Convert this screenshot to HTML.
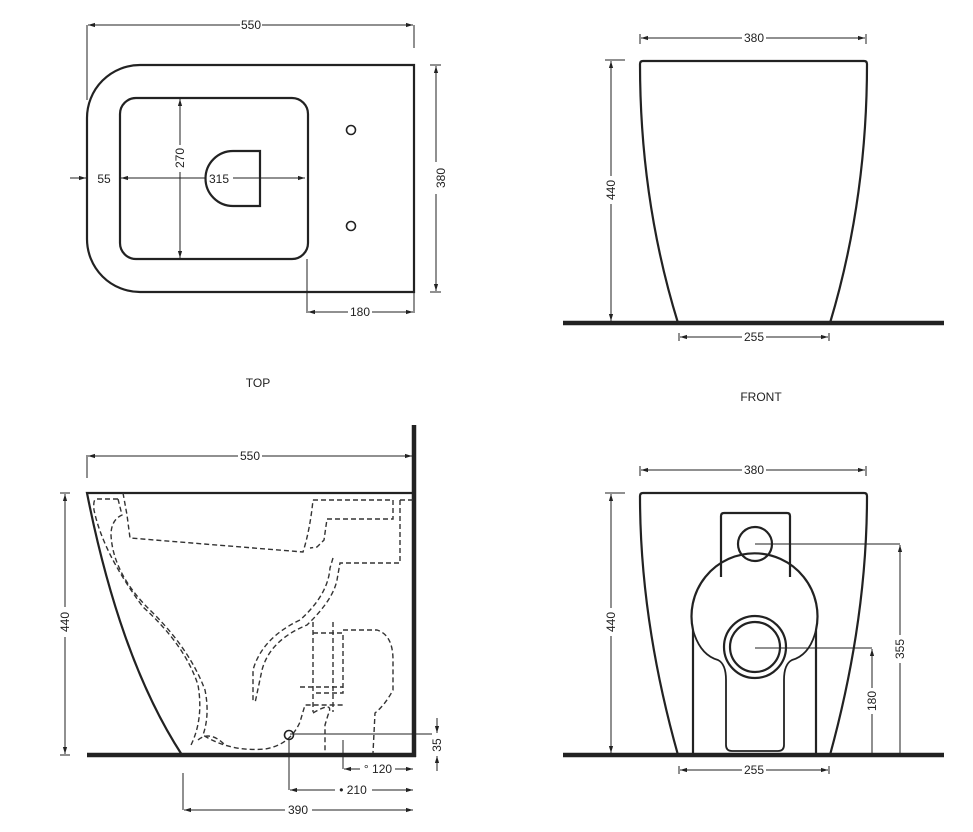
<!DOCTYPE html>
<html><head><meta charset="utf-8"><style>
html,body{margin:0;padding:0;background:#fff;}
svg{display:block;}
text{font-family:"Liberation Sans",sans-serif;font-size:12px;fill:#222;}
</style></head><body>
<svg width="973" height="832" viewBox="0 0 973 832" xmlns="http://www.w3.org/2000/svg">
<defs>
<marker id="a" viewBox="0 0 10 10" refX="10" refY="5" markerWidth="7" markerHeight="7" orient="auto-start-reverse"><path d="M0,2 L10,5 L0,8 z" fill="#222"/></marker>
</defs>
<g fill="none" stroke="#222" stroke-width="2.2">
<path d="M414,65 L140,65 A53,53 0 0 0 87,118 L87,239 A53,53 0 0 0 140,292 L414,292 Z"/>
<rect x="120" y="98" width="188" height="161" rx="16"/>
<path d="M260,151 L233,151 A27,27 0 0 0 233,206 L260,206 Z"/>
<circle cx="351" cy="130" r="4.5" stroke-width="1.6"/>
<circle cx="351" cy="226" r="4.5" stroke-width="1.6"/>
<path d="M643,61 L864,61 Q867,61 867,64 Q867,200 830,323 L678,323 Q640,200 640,64 Q640,61 643,61 Z"/>
<path d="M414,493 L87,493 Q120,660 182,755"/>
<path d="M643,493 L864,493 Q867,493 867,496 Q867,620 830,755 L678,755 Q640,620 640,496 Q640,493 643,493 Z"/>
<path d="M721,577 L721,516 Q721,513 724,513 L787,513 Q790,513 790,516 L790,577"/>
<circle cx="755" cy="544" r="17"/>
<path d="M693,755 L693,630 A63,63 0 1 1 816,630 L816,755"/>
<path d="M693,630 Q700,655 718,660 Q726,664 726,680 L726,745 Q726,751 732,751 L778,751 Q784,751 784,745 L784,680 Q784,664 792,660 Q810,655 816,630" stroke-width="1.8"/>
<circle cx="755" cy="647" r="31"/>
<circle cx="755" cy="647" r="25"/>
</g>
<g stroke="#222" stroke-width="4.5">
<line x1="563" y1="323" x2="944" y2="323"/>
<line x1="563" y1="755" x2="944" y2="755"/>
<line x1="87" y1="755" x2="416" y2="755"/>
<line x1="414" y1="425" x2="414" y2="757"/>
</g>
<g fill="none" stroke="#333" stroke-width="1.4" stroke-dasharray="5,3">
<path d="M118,499 L96,499 Q93,500 94,510 Q103,553 143,607 Q185,645 198,685 Q204,720 190,747"/>
<path d="M118,499 L122,515 Q111,520 111,535 Q113,575 153,613 Q190,650 205,690 Q210,715 203,735 Q230,752 265,749 Q290,745 300,722 L305,705 L343,705"/>
<path d="M123,493 L127,515 L130,538 L303,552 Q310,530 313,500"/>
<path d="M198,740 Q210,730 225,745"/>
<path d="M313,500 L393,500 L393,519 L327,519 L324,540 L317,547 L310,548"/>
<path d="M400,500 L414,500"/>
<path d="M400,500 L400,563 L340,563 L337,580 Q333,600 307,625 Q270,640 262,670 L255,703"/>
<path d="M333,558 L330,568 Q328,595 300,620 Q262,638 253,670 L253,703"/>
<path d="M313,622 L313,712 M333,622 L333,712 M313,633 L343,633 L343,693 L313,693 M300,687 L343,687"/>
<path d="M343,630 L377,630 Q393,635 393,660 L393,690 Q385,705 375,713 L373,753"/>
<path d="M313,713 Q335,700 328,715 L325,725 L325,753"/>
</g>
<circle cx="289" cy="735" r="4.5" fill="none" stroke="#222" stroke-width="1.6"/>
<g stroke="#222" stroke-width="1" fill="none">
<line x1="87" y1="25" x2="87" y2="100"/><line x1="414" y1="25" x2="414" y2="48"/>
<line x1="88" y1="25" x2="240" y2="25" marker-start="url(#a)"/><line x1="262" y1="25" x2="413" y2="25" marker-end="url(#a)"/>
<line x1="430" y1="65" x2="441" y2="65"/><line x1="430" y1="292" x2="441" y2="292"/>
<line x1="436" y1="66" x2="436" y2="162" marker-start="url(#a)"/><line x1="436" y1="194" x2="436" y2="291" marker-end="url(#a)"/>
<line x1="307" y1="259" x2="307" y2="313"/><line x1="414" y1="292" x2="414" y2="313"/>
<line x1="308" y1="312" x2="348" y2="312" marker-start="url(#a)"/><line x1="372" y1="312" x2="413" y2="312" marker-end="url(#a)"/>
<line x1="70" y1="178" x2="86" y2="178" marker-end="url(#a)"/>
<line x1="121" y1="178" x2="205" y2="178" marker-start="url(#a)"/><line x1="233" y1="178" x2="305" y2="178" marker-end="url(#a)"/>
<line x1="180" y1="99" x2="180" y2="145" marker-start="url(#a)"/><line x1="180" y1="172" x2="180" y2="258" marker-end="url(#a)"/>
<line x1="640" y1="34" x2="640" y2="44"/><line x1="866" y1="34" x2="866" y2="44"/>
<line x1="641" y1="38" x2="742" y2="38" marker-start="url(#a)"/><line x1="766" y1="38" x2="865" y2="38" marker-end="url(#a)"/>
<line x1="605" y1="60" x2="625" y2="60"/>
<line x1="611" y1="61" x2="611" y2="176" marker-start="url(#a)"/><line x1="611" y1="204" x2="611" y2="321" marker-end="url(#a)"/>
<line x1="679" y1="333" x2="679" y2="341"/><line x1="829" y1="333" x2="829" y2="341"/>
<line x1="680" y1="337" x2="742" y2="337" marker-start="url(#a)"/><line x1="766" y1="337" x2="828" y2="337" marker-end="url(#a)"/>
<line x1="87" y1="455" x2="87" y2="478"/>
<line x1="88" y1="456" x2="238" y2="456" marker-start="url(#a)"/><line x1="262" y1="456" x2="412" y2="456" marker-end="url(#a)"/>
<line x1="60" y1="493" x2="70" y2="493"/><line x1="60" y1="755" x2="70" y2="755"/>
<line x1="65" y1="494" x2="65" y2="607" marker-start="url(#a)"/><line x1="65" y1="637" x2="65" y2="754" marker-end="url(#a)"/>
<line x1="290" y1="734" x2="432" y2="734"/>
<line x1="437" y1="718" x2="437" y2="733" marker-end="url(#a)"/><line x1="437" y1="771" x2="437" y2="756" marker-end="url(#a)"/>
<line x1="343" y1="740" x2="343" y2="769"/>
<line x1="344" y1="769" x2="360" y2="769" marker-start="url(#a)"/><line x1="395" y1="769" x2="413" y2="769" marker-end="url(#a)"/>
<line x1="289" y1="740" x2="289" y2="790"/>
<line x1="290" y1="790" x2="335" y2="790" marker-start="url(#a)"/><line x1="372" y1="790" x2="413" y2="790" marker-end="url(#a)"/>
<line x1="183" y1="773" x2="183" y2="810"/>
<line x1="184" y1="810" x2="285" y2="810" marker-start="url(#a)"/><line x1="312" y1="810" x2="413" y2="810" marker-end="url(#a)"/>
<line x1="640" y1="466" x2="640" y2="476"/><line x1="866" y1="466" x2="866" y2="476"/>
<line x1="641" y1="470" x2="742" y2="470" marker-start="url(#a)"/><line x1="766" y1="470" x2="865" y2="470" marker-end="url(#a)"/>
<line x1="605" y1="493" x2="625" y2="493"/>
<line x1="611" y1="494" x2="611" y2="608" marker-start="url(#a)"/><line x1="611" y1="636" x2="611" y2="753" marker-end="url(#a)"/>
<line x1="755" y1="544" x2="900" y2="544"/>
<line x1="900" y1="545" x2="900" y2="635" marker-start="url(#a)"/><line x1="900" y1="663" x2="900" y2="753"/>
<line x1="755" y1="648" x2="872" y2="648"/>
<line x1="872" y1="649" x2="872" y2="688" marker-start="url(#a)"/><line x1="872" y1="714" x2="872" y2="753"/>
<line x1="679" y1="766" x2="679" y2="774"/><line x1="829" y1="766" x2="829" y2="774"/>
<line x1="680" y1="770" x2="742" y2="770" marker-start="url(#a)"/><line x1="766" y1="770" x2="828" y2="770" marker-end="url(#a)"/>
</g>
<g text-anchor="middle">
<text x="251" y="29">550</text>
<text x="441" y="178" transform="rotate(-90 441 178)" dy="4">380</text>
<text x="360" y="316">180</text>
<text x="104" y="183">55</text>
<text x="219" y="183">315</text>
<text x="180" y="158" transform="rotate(-90 180 158)" dy="4">270</text>
<text x="754" y="42">380</text>
<text x="611" y="190" transform="rotate(-90 611 190)" dy="4">440</text>
<text x="754" y="341">255</text>
<text x="258" y="387">TOP</text>
<text x="761" y="401">FRONT</text>
<text x="250" y="460">550</text>
<text x="65" y="622" transform="rotate(-90 65 622)" dy="4">440</text>
<text x="437" y="745" transform="rotate(-90 437 745)" dy="4">35</text>
<text x="378" y="773">° 120</text>
<text x="353" y="794">• 210</text>
<text x="298" y="814">390</text>
<text x="754" y="474">380</text>
<text x="611" y="622" transform="rotate(-90 611 622)" dy="4">440</text>
<text x="900" y="649" transform="rotate(-90 900 649)" dy="4">355</text>
<text x="872" y="701" transform="rotate(-90 872 701)" dy="4">180</text>
<text x="754" y="774">255</text>
</g>
</svg>
</body></html>
